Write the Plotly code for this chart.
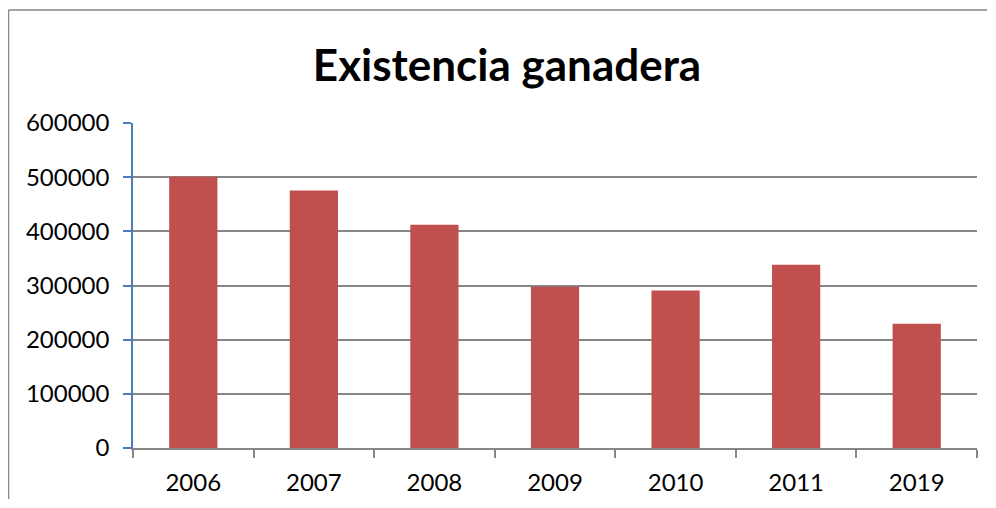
import plotly.graph_objects as go

years = ["2006", "2007", "2008", "2009", "2010", "2011", "2019"]
existencia = [501000, 475500, 412000, 297500, 291000, 338500, 229500]
y_ticks = [0, 100000, 200000, 300000, 400000, 500000, 600000]
title_text = "Existencia ganadera"

# page body has an 8px margin, so figure coordinates = screen coordinates - 8;
# the figure is sized so that it fits the 996x508 window without scrollbars
OFF = 8
W, H = 996 - 2 * OFF, 508 - 2 * OFF
L, T = 133 - OFF, 123 - OFF
pw, ph = 844, 325
R = W - L - pw
B = H - T - ph

def px_x(p):
    return (p - OFF - L) / pw

def px_y(p):
    return (T + ph - (p - OFF)) / ph

frame = dict(color="#868686", width=1.5)

fig = go.Figure(
    go.Bar(x=years, y=existencia, marker=dict(color="#c0504d", line=dict(width=0)),
           width=0.4)
)

fig.update_layout(
    width=W, height=H,
    margin=dict(l=L, r=R, t=T, b=B, autoexpand=False),
    paper_bgcolor="white", plot_bgcolor="white",
    showlegend=False,
    font=dict(family="Lato", color="black"),
    title=dict(text="<b>" + title_text + "</b>", font=dict(size=44, family="Lato", color="black"),
               x=(507 - OFF) / W, xanchor="center", xref="container",
               y=1 - (66 - OFF) / H, yanchor="middle", yref="container"),
    shapes=[
        dict(type="line", xref="paper", yref="paper",
             x0=px_x(8.5), x1=px_x(987), y0=px_y(10), y1=px_y(10), line=frame, layer="below"),
        dict(type="line", xref="paper", yref="paper",
             x0=px_x(8.5), x1=px_x(8.5), y0=px_y(10), y1=px_y(499), line=frame, layer="below"),
    ],
)

fig.update_xaxes(
    type="category", range=[-0.5, 6.5],
    showline=True, linecolor="#868686", linewidth=1.5,
    ticks="outside", tickson="boundaries", ticklen=8, tickcolor="#868686", tickwidth=1.5,
    tickfont=dict(size=24, family="Lato", color="black"),
    ticklabelstandoff=12,
    showgrid=False, zeroline=False,
)
fig.update_yaxes(
    range=[0, 600000], tickvals=y_ticks, ticktext=[str(v) for v in y_ticks],
    showline=True, linecolor="#4a7ebb", linewidth=1.5,
    ticks="outside", ticklen=8, tickcolor="#4a7ebb", tickwidth=1.5,
    tickfont=dict(size=24, family="Lato", color="black"),
    ticklabelstandoff=9,
    showgrid=True, gridcolor="#868686", gridwidth=1.5,
    zeroline=False,
)

fig.write_html("out.html", config={"displayModeBar": False})
